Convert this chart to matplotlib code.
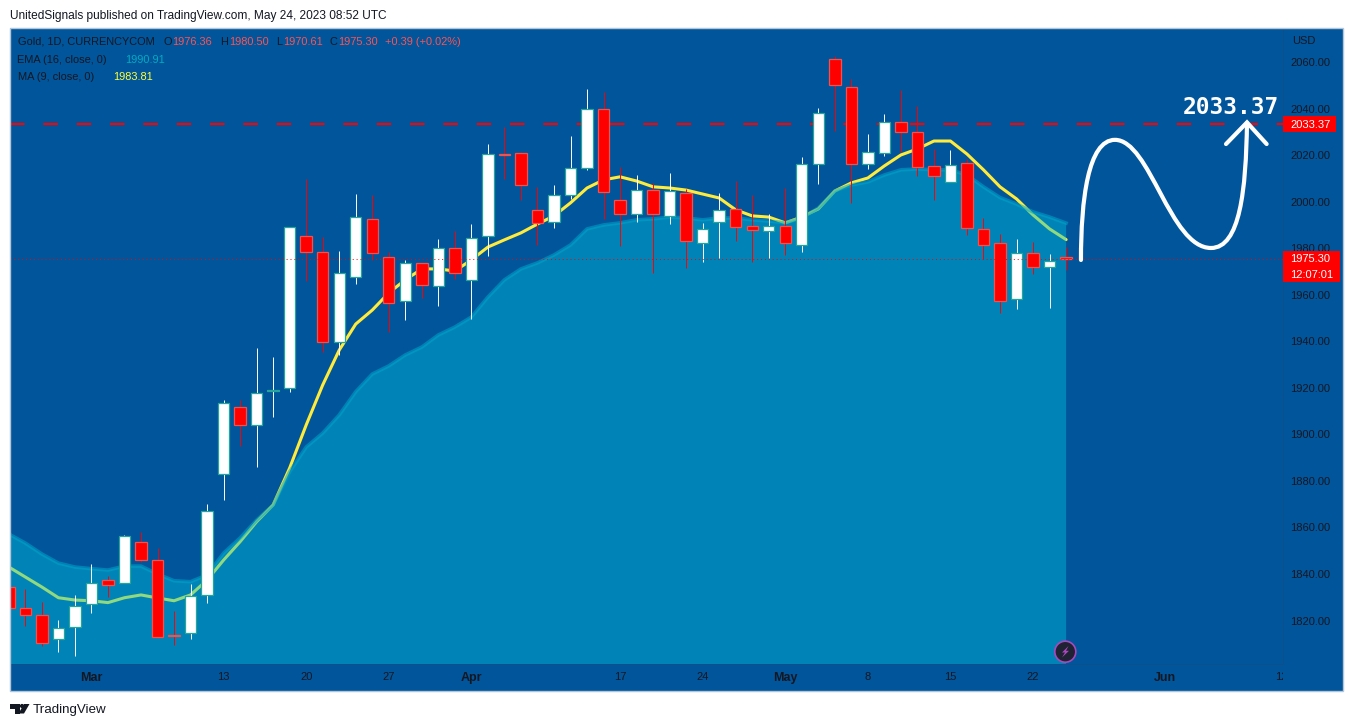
import matplotlib
matplotlib.use("Agg")
import numpy as np
import matplotlib.pyplot as plt
from matplotlib.patches import Circle, PathPatch, Polygon, Rectangle
from matplotlib.path import Path
from matplotlib.transforms import Affine2D, Bbox

# --- DATA ---
opens = [1834.5, 1825.2, 1822.2, 1811.9, 1817.1, 1827.0, 1837.3, 1836.0, 1853.6, 1845.9,
         1813.8, 1814.5, 1830.8, 1883.0, 1911.8, 1904.1, 1918.9, 1920.0, 1985.2, 1978.4,
         1939.7, 1967.6, 1992.6, 1976.2, 1957.3, 1973.6, 1963.7, 1980.1, 1966.3, 1985.2,
         2020.6, 2021.0, 1996.4, 1991.3, 2002.9, 2014.5, 2039.9, 2000.7, 1994.7, 2005.0,
         1994.0, 2003.7, 1982.2, 1991.3, 1996.9, 1989.5, 1987.4, 1989.5, 1981.5, 2016.2,
         2061.4, 2049.3, 2016.2, 2021.0, 2034.3, 2030.0, 2015.4, 2008.5, 2016.6, 1988.3,
         1982.2, 1958.1, 1977.9, 1972.0, 1976.36]
highs = [1834.5, 1833.4, 1828.1, 1820.2, 1831.0, 1844.3, 1839.1, 1856.8, 1858.2, 1851.3,
         1824.1, 1835.7, 1870.1, 1914.8, 1914.8, 1937.2, 1933.5, 1989.1, 2009.8, 1984.8,
         1978.9, 2003.3, 2002.9, 1978.5, 1975.1, 1973.6, 1984.1, 1987.5, 1990.5, 2025.0,
         2032.3, 2021.5, 2006.3, 2007.3, 2028.4, 2048.6, 2047.3, 2014.9, 2011.5, 2008.0,
         2012.3, 2005.5, 1991.0, 2003.7, 2009.0, 2002.9, 1995.0, 2006.0, 2019.2, 2040.3,
         2062.8, 2052.8, 2029.2, 2037.8, 2048.2, 2041.3, 2022.7, 2022.4, 2018.4, 1993.2,
         1986.2, 1984.1, 1982.9, 1977.8, 1980.50]
lows = [1825.2, 1817.8, 1809.0, 1806.5, 1804.9, 1823.4, 1830.1, 1836.0, 1845.3, 1812.8,
        1809.5, 1812.2, 1827.7, 1871.8, 1895.1, 1886.0, 1907.7, 1918.4, 1966.0, 1935.6,
        1934.2, 1964.7, 1975.1, 1944.2, 1949.2, 1958.8, 1955.3, 1966.9, 1949.8, 1976.8,
        2009.9, 2000.9, 1981.5, 1988.8, 2001.4, 2013.8, 1992.6, 1981.2, 1991.4, 1969.3,
        1990.5, 1971.7, 1974.3, 1976.0, 1983.4, 1974.3, 1976.0, 1977.3, 1978.6, 2007.9,
        2030.5, 1999.4, 2014.3, 2019.8, 2021.5, 2011.2, 2000.9, 2008.5, 1985.7, 1975.4,
        1952.1, 1954.0, 1969.0, 1954.4, 1970.61]
closes = [1825.2, 1822.2, 1810.5, 1816.9, 1826.4, 1836.3, 1835.4, 1856.2, 1846.2, 1812.8,
          1813.2, 1830.4, 1867.0, 1913.5, 1904.1, 1917.8, 1919.3, 1989.1, 1978.4, 1939.9,
          1969.3, 1993.4, 1978.2, 1956.4, 1973.6, 1964.2, 1980.1, 1969.3, 1984.4, 2020.5,
          2020.2, 2007.2, 1990.8, 2003.1, 2014.5, 2039.9, 2004.2, 1994.7, 2005.0, 1994.7,
          2004.6, 1983.1, 1988.5, 1996.7, 1989.1, 1987.8, 1989.5, 1982.2, 2016.5, 2038.4,
          2050.2, 2016.5, 2021.4, 2034.3, 2030.0, 2014.9, 2011.1, 2016.0, 1988.7, 1981.5,
          1957.3, 1977.9, 1971.9, 1974.8, 1975.30]
ema16 = [1857.2, 1853.3, 1848.6, 1844.7, 1843.0, 1842.3, 1841.7, 1843.4, 1843.4, 1840.0,
         1837.1, 1836.7, 1839.6, 1849.0, 1855.5, 1863.2, 1869.7, 1884.0, 1894.6, 1900.6,
         1908.4, 1918.4, 1926.0, 1929.5, 1934.2, 1937.6, 1942.8, 1946.2, 1950.5, 1959.1,
         1966.5, 1971.2, 1973.8, 1977.2, 1981.5, 1988.4, 1990.1, 1991.0, 1992.3, 1992.7,
         1993.5, 1993.1, 1992.3, 1993.1, 1993.1, 1992.3, 1991.8, 1991.0, 1993.1, 1997.4,
         2004.7, 2007.3, 2008.6, 2011.6, 2013.8, 2014.2, 2013.8, 2013.8, 2011.6, 2006.5,
         2001.9, 1999.1, 1995.7, 1993.5, 1990.91]
ma9 = [1843.0, 1838.7, 1834.4, 1829.8, 1828.8, 1828.5, 1827.7, 1829.8, 1831.0, 1829.7,
       1828.5, 1831.0, 1837.4, 1846.0, 1853.9, 1862.5, 1869.7, 1885.6, 1904.1, 1921.3,
       1936.3, 1947.5, 1953.5, 1960.9, 1966.5, 1971.2, 1971.2, 1970.3, 1975.1, 1980.6,
       1983.7, 1986.7, 1990.5, 1994.0, 1999.6, 2006.0, 2009.5, 2010.8, 2009.0, 2006.5,
       2006.0, 2005.1, 2003.4, 2001.7, 1996.6, 1994.0, 1993.5, 1991.0, 1993.5, 1997.0,
       2004.7, 2008.2, 2010.3, 2015.5, 2020.2, 2022.8, 2026.2, 2026.2, 2020.6, 2013.8,
       2006.5, 2001.3, 1994.4, 1988.4, 1983.81]
target = 2033.37
last_close = 1975.30

y_ticks = list(range(1820, 2061, 20))
x_ticks = [5, 13, 18, 23, 28, 37, 42, 47, 52, 57, 62, 70, 77]
x_labels = ["Mar", "13", "20", "27", "Apr", "17", "24", "May", "8", "15", "22", "Jun", "12"]
months = ["Mar", "Apr", "May", "Jun"]

# hand drawn forecast arrow, in bars / price
curve_x = [64.9, 64.9, 65.33, 66.96, 69.08, 70.29, 72.77, 74.53, 74.89, 74.95]
curve_y = [1975.05, 2000.9, 2026.7, 2026.7, 2026.7, 1980.2, 1980.2, 1980.2, 2005.2, 2034.0]
head_x = [73.68, 74.95, 76.14]
head_y = [2024.9, 2034.2, 2024.9]

# --- STYLE ---
W, H = 1354, 727
BG = "#01559B"
DARK = "#131722"
LINE = "#0D4F8B"
RED = "#FF0000"
FONT = "Liberation Sans"
plt.rcParams["font.family"] = FONT

fig = plt.figure(figsize=(W/100, H/100), dpi=100, facecolor="white")
px = Affine2D().scale(1, -1).translate(0, H)  # pixels, origin top left

# price and time scale background stays behind the axes, the border goes on top
fig.add_artist(Rectangle((10, 28), 1333, 663, transform=px, fc=BG, ec="none", zorder=-1))
fig.add_artist(Rectangle((10, 28), 1333, 663, transform=px, fc="none", ec="#B2C6DA", lw=1, zorder=2))

ax = fig.add_axes([10/W, 1 - 664/H, 1273/W, 636/H], facecolor=BG)
ax.set_xlim(0.07, 77.13)
ax.set_ylim(1801.3, 2074.8)
for s in ["top", "left"]:
    ax.spines[s].set_visible(False)
for s in ["right", "bottom"]:
    ax.spines[s].set_color(LINE)
    ax.spines[s].set_linewidth(0.7)

x = np.arange(len(closes))
o, h, l, c = map(np.array, (opens, highs, lows, closes))
up = c >= o

# MA sits under the area, that's what makes it go green inside the fill
ax.plot(x, ma9, color="#FFEB3B", lw=2.2, zorder=2, solid_capstyle="round")
ax.fill_between(x, ema16, 1700, color="#00C2DA", alpha=0.43, lw=0, zorder=3)
ax.plot(x, ema16, color="#00A5CC", lw=2.6, alpha=0.55, zorder=3)

ax.axhline(target, color=RED, lw=1.5, dashes=(7, 9), zorder=4)

# candles, one Line2D per wick so each snaps to a whole pixel
# lw just under 1px, exactly 0.72 rounds up in the snapping and smears over 2 px
for i in x:
    ax.plot([i, i], [l[i], h[i]], color="white" if up[i] else RED, lw=0.7,
            solid_capstyle="butt", zorder=5)
ax.bar(x[up], (c - o)[up], bottom=o[up], width=0.69, color="white", edgecolor="#26A69A", lw=0.9, zorder=6)
ax.bar(x[~up], (c - o)[~up], bottom=o[~up], width=0.69, color=RED, edgecolor="#EF5350", lw=0.9, zorder=6)

ax.axhline(last_close, color=RED, lw=0.7, dashes=(1, 3), zorder=7)

# forecast arrow
verts = list(zip(curve_x, curve_y))
codes = [Path.MOVETO] + [Path.CURVE4] * 9
ax.add_patch(PathPatch(Path(verts, codes), fc="none", ec="white", lw=3, capstyle="round", zorder=8))
ax.plot(head_x, head_y, color="white", lw=3, solid_capstyle="round", solid_joinstyle="miter", zorder=8)
ax.text(74.0, 2040.4, f"{target:.2f}", color="white", fontsize=16.5, fontweight="bold",
        family="DejaVu Sans Mono", ha="center", va="center", zorder=9)

# scales
ax.yaxis.tick_right()
ax.set_yticks(y_ticks, [f"{v:.2f}" for v in y_ticks])
ax.set_xticks(x_ticks, x_labels)
ax.tick_params(axis="both", length=0, colors=DARK, labelsize=8)
ax.tick_params(axis="y", pad=5)
ax.tick_params(axis="x", pad=6)
for lab in ax.get_xticklabels():
    if lab.get_text() in months:
        lab.set_fontweight("bold")
        lab.set_fontsize(9)
    lab.set_clip_box(Bbox([[0, 0], [1283, H]]))
    lab.set_clip_on(True)

# price labels
fig.add_artist(Rectangle((1283, 116), 53, 16, transform=px, fc=RED, ec="none"))
fig.add_artist(Rectangle((1283, 251), 57, 31, transform=px, fc=RED, ec="none"))
fig.text(1290/W, 1 - 124.5/H, f"{target:.2f}", color="white", fontsize=8, va="center")
fig.text(1290/W, 1 - 259.5/H, f"{last_close:.2f}", color="white", fontsize=8, va="center")
fig.text(1290/W, 1 - 274.5/H, "12:07:01", color="white", fontsize=8, va="center")
fig.text(1292/W, 1 - 40.5/H, "USD", color=DARK, fontsize=8, va="center")

# legend rows
def label(xp, yp, s, col=DARK):
    fig.text(xp/W, 1 - (yp + 0.7)/H, s, color=col, fontsize=7.9, va="center")

VAL = "#FF5252"
label(18, 41, "Gold, 1D, CURRENCYCOM")
for xl, s, xv, v in [(163, "O", 172, opens[-1]), (220, "H", 229, highs[-1]),
                     (276, "L", 283, lows[-1]), (329, "C", 338, closes[-1])]:
    label(xl, 41, s)
    label(xv, 41, f"{v:.2f}", VAL)
label(385, 41, "+0.39 (+0.02%)", VAL)
label(17, 59, "EMA (16, close, 0)")
label(125, 59, f"{ema16[-1]:.2f}", "#00ACC1")
label(18, 76, "MA (9, close, 0)")
label(113, 76, f"{ma9[-1]:.2f}", "#FFFF3B")

# header and footer
fig.text(10/W, 1 - 15.5/H, "UnitedSignals published on TradingView.com, May 24, 2023 08:52 UTC",
         color=DARK, fontsize=8.58, va="center")
fig.text(33/W, 1 - 710/H, "TradingView", color=DARK, fontsize=9.6, va="center")

# TV logo
fig.add_artist(Polygon([(10, 704), (19.5, 704), (19.5, 713.5), (14.5, 713.5), (14.5, 708.5), (10, 708.5)],
                       transform=px, fc=DARK, ec="none"))
fig.add_artist(Circle((22, 706), 2.1, transform=px, fc=DARK, ec="none"))
fig.add_artist(Polygon([(24, 704), (29.5, 704), (24, 713.5), (18.5, 713.5)], transform=px, fc=DARK, ec="none"))

# bolt badge
fig.add_artist(Circle((1065.3, 651.7), 10.5, transform=px, fc="#1E2233", ec="#AB47BC", lw=1.2))
fig.add_artist(Polygon([(1068.5, 646), (1062, 652.5), (1065, 652.5), (1062, 657.5), (1069, 650.8), (1066, 650.8)],
                       transform=px, fc="#AB47BC", ec="none"))

fig.savefig("out.png", dpi=100)
